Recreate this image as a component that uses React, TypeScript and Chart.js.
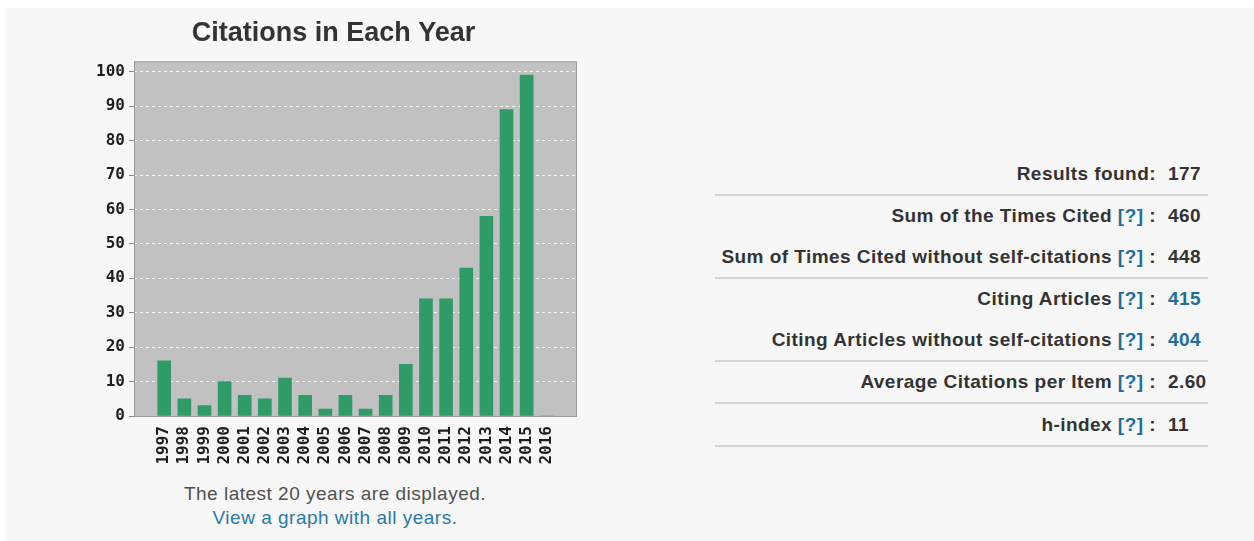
import React, { useEffect, useRef } from "react";
import { Chart, registerables } from "chart.js";

Chart.register(...registerables);

const years = [1997, 1998, 1999, 2000, 2001, 2002, 2003, 2004, 2005, 2006, 2007, 2008, 2009, 2010, 2011, 2012, 2013, 2014, 2015, 2016];
const citations = [16, 5, 3, 10, 6, 5, 11, 6, 2, 6, 2, 6, 15, 34, 34, 43, 58, 89, 99, 0];
const yTicks = [0, 10, 20, 30, 40, 50, 60, 70, 80, 90, 100];

const statLabels = [
  "Results found:",
  "Sum of the Times Cited",
  "Sum of Times Cited without self-citations",
  "Citing Articles",
  "Citing Articles without self-citations",
  "Average Citations per Item",
  "h-index",
];
const statHelp = [false, true, true, true, true, true, true];
const statValues = ["177", "460", "448", "415", "404", "2.60", "11"];
const statValueLink = [false, false, false, true, true, false, false];
const statLineAfter = [true, false, true, false, true, true, true];

const chartTitle = "Citations in Each Year";
const footerText = "The latest 20 years are displayed.";
const footerLink = "View a graph with all years.";

const plotFrame = {
  id: "plotFrame",
  beforeDraw(chart: any) {
    const { ctx, chartArea: a } = chart;
    ctx.save();
    ctx.fillStyle = "#c2c1c1";
    ctx.fillRect(a.left, a.top, a.right - a.left, a.bottom - a.top);
    ctx.restore();
  },
  afterDraw(chart: any) {
    const { ctx, chartArea: a } = chart;
    ctx.save();
    ctx.strokeStyle = "#9c9c9c";
    ctx.lineWidth = 1;
    ctx.strokeRect(a.left + 0.5, a.top + 0.5, a.right - a.left - 1, a.bottom - a.top);
    ctx.restore();
  },
};

function CitationChart() {
  const ref = useRef<HTMLCanvasElement | null>(null);
  useEffect(() => {
    if (!ref.current) return;
    const chart = new Chart(ref.current, {
      type: "bar",
      data: {
        datasets: [
          {
            data: years.map((y, i) => ({ x: y, y: citations[i] })),
            backgroundColor: "#2f9b66",
            borderWidth: 0,
            barThickness: 13,
          },
        ],
      },
      options: {
        animation: false,
        responsive: false,
        layout: { padding: { left: 0, right: 3, top: 0, bottom: 0 } },
        plugins: {
          legend: { display: false },
          tooltip: { enabled: false },
          title: {
            display: true,
            text: chartTitle,
            color: "#333333",
            font: { family: "'Liberation Sans', Arial, sans-serif", size: 27, weight: "bold" },
            padding: { top: 7, bottom: 12 },
          },
        },
        scales: {
          x: {
            type: "linear",
            min: 1995.5,
            max: 2017.5,
            offset: false,
            afterBuildTicks: (scale: any) => {
              scale.ticks = years.map((v) => ({ value: v }));
            },
            afterFit: (scale: any) => {
              scale.height = 60;
            },
            grid: { display: false },
            border: { display: false },
            ticks: {
              autoSkip: false,
              maxRotation: 90,
              minRotation: 90,
              padding: 2,
              color: "#1e1e1e",
              font: { family: "'DejaVu Sans Mono', monospace", size: 16, weight: "bold" },
              callback: (v: any) => String(v),
            },
          },
          y: {
            min: 0,
            max: 103,
            afterBuildTicks: (scale: any) => {
              scale.ticks = yTicks.map((v) => ({ value: v }));
            },
            afterFit: (scale: any) => {
              scale.width = 44;
            },
            grid: {
              color: "rgba(255,255,255,0.85)",
              tickColor: "#8a8a8a",
              tickLength: 5,
              tickBorderDash: [],
            },
            border: { display: false, dash: [3, 3] },
            ticks: {
              padding: 4,
              color: "#1e1e1e",
              font: { family: "'DejaVu Sans Mono', monospace", size: 16, weight: "bold" },
              callback: (v: any) => String(v),
            },
          },
        },
      },
      plugins: [plotFrame],
    } as any);
    return () => chart.destroy();
  }, []);
  return (
    <canvas
      ref={ref}
      width={490}
      height={466}
      style={{ position: "absolute", left: 90, top: 10, width: 490, height: 466 }}
    />
  );
}

export default function App() {
  const font = "'Liberation Sans', Arial, sans-serif";
  const rowCenters = [174, 216, 257, 299, 340, 382, 425];
  return (
    <div
      style={{
        position: "absolute",
        left: 0,
        top: 0,
        width: 1254,
        height: 541,
        background: "#ffffff",
        overflow: "hidden",
        fontFamily: font,
      }}
    >
      <div
        style={{
          position: "absolute",
          left: 5,
          top: 8,
          right: 0,
          bottom: 0,
          background: "#f7f7f7",
        }}
      />
      <CitationChart />
      <div
        style={{
          position: "absolute",
          left: 120,
          width: 430,
          top: 482,
          textAlign: "center",
          fontSize: 19,
          letterSpacing: 0.5,
          lineHeight: "24px",
          color: "#505050",
        }}
      >
        <div>{footerText}</div>
        <div style={{ color: "#2a7aa6" }}>{footerLink}</div>
      </div>
      {statLabels.map((label, i) => (
        <React.Fragment key={label}>
          <div
            style={{
              position: "absolute",
              right: 1254 - 1156,
              top: rowCenters[i] - 11,
              height: 22,
              lineHeight: "22px",
              fontSize: 19,
              letterSpacing: 0.45,
              fontWeight: "bold",
              color: "#333333",
              whiteSpace: "nowrap",
              textAlign: "right",
            }}
          >
            {label}
            {statHelp[i] ? (
              <>
                {" "}
                <span style={{ color: "#1f6e9c" }}>[?]</span>
                {" :"}
              </>
            ) : null}
          </div>
          <div
            style={{
              position: "absolute",
              left: 1168,
              top: rowCenters[i] - 11,
              height: 22,
              lineHeight: "22px",
              fontSize: 19,
              letterSpacing: 0.4,
              fontWeight: "bold",
              color: statValueLink[i] ? "#1f6e9c" : "#333333",
              whiteSpace: "nowrap",
            }}
          >
            {statValues[i]}
          </div>
          {statLineAfter[i] ? (
            <div
              style={{
                position: "absolute",
                left: 715,
                width: 493,
                top: rowCenters[i] + 20,
                height: 2,
                background: "#d4d4d4",
              }}
            />
          ) : null}
        </React.Fragment>
      ))}
    </div>
  );
}
